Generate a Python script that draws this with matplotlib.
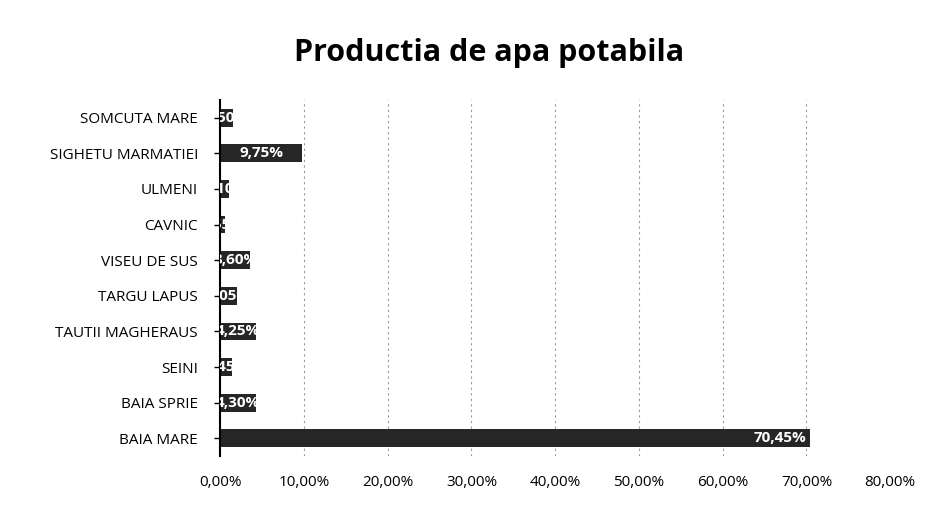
import matplotlib.pyplot as plt
from matplotlib.ticker import FuncFormatter
from matplotlib.transforms import TransformedBbox

localitati = ["BAIA MARE", "BAIA SPRIE", "SEINI", "TAUTII MAGHERAUS", "TARGU LAPUS",
              "VISEU DE SUS", "CAVNIC", "ULMENI", "SIGHETU MARMATIEI", "SOMCUTA MARE"]
procente = [70.45, 4.30, 1.45, 4.25, 2.05, 3.60, 0.55, 1.10, 9.75, 1.50]
x_ticks = [0, 10, 20, 30, 40, 50, 60, 70, 80]

plt.rcParams['font.family'] = ['Open Sans', 'DejaVu Sans']

fig = plt.figure(figsize=(9.41, 5.05), dpi=100)
ax = fig.add_axes([0.234, 0.097, 0.712, 0.705])

bars = ax.barh(range(len(localitati)), procente, height=0.5, color="#262626")

# etichete in interiorul barelor, taiate la marginea barei (ca in Excel)
for bar, val in zip(bars, procente):
    eticheta = f"{val:.2f}%".replace(".", ",")
    yc = bar.get_y() + bar.get_height() / 2
    if val > 20:
        txt = ax.text(bar.get_width() - 0.4, yc, eticheta, ha="right", va="center",
                      color="white", fontsize=11, fontweight="bold")
    else:
        txt = ax.text(bar.get_width() / 2, yc, eticheta, ha="center", va="center",
                      color="white", fontsize=11, fontweight="bold")
    txt.set_clip_box(TransformedBbox(bar.get_bbox(), ax.transData))
    txt.set_clip_on(True)

ax.set_xlim(0, 80)
ax.set_ylim(-0.5, len(localitati) - 0.5)
ax.set_xticks(x_ticks)
ax.xaxis.set_major_formatter(FuncFormatter(lambda v, p: f"{v:.2f}%".replace(".", ",")))
ax.set_yticks(range(len(localitati)))
ax.set_yticklabels(localitati)
ax.tick_params(axis="x", length=0, labelsize=11, pad=14)
ax.tick_params(axis="y", length=4, labelsize=11, width=1, pad=12)

ax.grid(axis="x", linestyle=(0, (2, 3)), color="#999999", linewidth=0.8)
ax.set_axisbelow(True)
for s in ["top", "right", "bottom"]:
    ax.spines[s].set_visible(False)
ax.spines["left"].set_linewidth(1.5)

fig.suptitle("Productia de apa potabila", x=0.52, y=0.925, fontsize=22, fontweight="bold")

fig.savefig("out.png", dpi=100, facecolor="white")
